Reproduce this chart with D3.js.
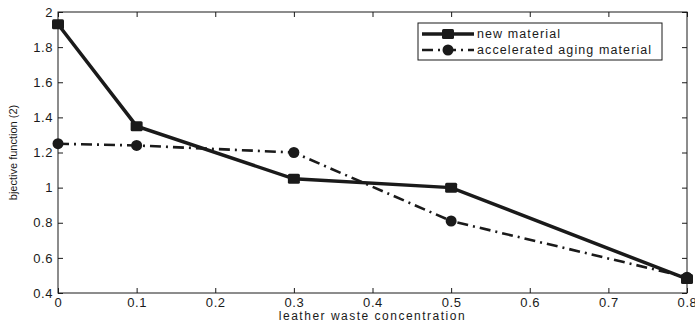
<!DOCTYPE html>
<html>
<head>
<meta charset="utf-8">
<script src="https://cdn.jsdelivr.net/npm/d3@7"></script>
<style>
  body { margin: 0; background: #fff; }
  svg { font-family: "Liberation Sans", Arial, sans-serif; }
</style>
</head>
<body>
<svg id="chart" width="695" height="325"></svg>
<script>
const concentration = [0, 0.1, 0.3, 0.5, 0.8];
const newMaterial = [1.93, 1.35, 1.05, 1.0, 0.48];
const agedMaterial = [1.25, 1.24, 1.2, 0.81, 0.49];
const xTicks = [0, 0.1, 0.2, 0.3, 0.4, 0.5, 0.6, 0.7, 0.8];
const yTicks = [0.4, 0.6, 0.8, 1, 1.2, 1.4, 1.6, 1.8, 2];
const seriesNames = ['new material', 'accelerated aging material'];

const svg = d3.select('#chart');
const plotLeft = 58, plotRight = 687, plotTop = 12, plotBottom = 293;
const ink = '#1a1a1a';

const x = d3.scaleLinear().domain([0, 0.8]).range([plotLeft, plotRight]);
const y = d3.scaleLinear().domain([0.4, 2]).range([plotBottom, plotTop]);

// frame
svg.append('rect')
    .attr('x', plotLeft).attr('y', plotTop)
    .attr('width', plotRight - plotLeft).attr('height', plotBottom - plotTop)
    .attr('fill', 'none').attr('stroke', ink).attr('stroke-width', 1);

// inward ticks on all four sides
const tickLen = 5;
const xAxisB = d3.axisBottom(x).tickValues(xTicks).tickSizeInner(-tickLen).tickSizeOuter(0)
    .tickFormat(d => d3.format('')(d));
const gxB = svg.append('g').attr('transform', `translate(0,${plotBottom})`).call(xAxisB);
const xAxisT = d3.axisTop(x).tickValues(xTicks).tickSizeInner(-tickLen).tickSizeOuter(0).tickFormat('');
const gxT = svg.append('g').attr('transform', `translate(0,${plotTop})`).call(xAxisT);
const yAxisL = d3.axisLeft(y).tickValues(yTicks).tickSizeInner(-tickLen).tickSizeOuter(0)
    .tickFormat(d => d3.format('')(d));
const gyL = svg.append('g').attr('transform', `translate(${plotLeft},0)`).call(yAxisL);
const yAxisR = d3.axisRight(y).tickValues(yTicks).tickSizeInner(-tickLen).tickSizeOuter(0).tickFormat('');
const gyR = svg.append('g').attr('transform', `translate(${plotRight},0)`).call(yAxisR);

[gxB, gxT, gyL, gyR].forEach(g => {
    g.select('.domain').remove();
    g.selectAll('line').attr('stroke', ink);
    g.selectAll('text').attr('fill', ink).attr('font-size', 13).attr('letter-spacing', 0.6);
});
gxB.selectAll('text').attr('y', 5).attr('dy', '0.71em');
gyL.selectAll('text').attr('x', -5);

// axis titles
svg.append('text')
    .attr('x', (plotLeft + plotRight) / 2).attr('y', 320)
    .attr('text-anchor', 'middle').attr('font-size', 12).attr('letter-spacing', 1.5).attr('fill', ink)
    .text('leather waste concentration');
svg.append('text')
    .attr('transform', `translate(17,${(plotTop + plotBottom) / 2}) rotate(-90)`)
    .attr('text-anchor', 'middle').attr('font-size', 11).attr('fill', ink)
    .text('bjective function (2)');

const line = d3.line().x(d => x(d[0])).y(d => y(d[1]));
const newPts = concentration.map((c, i) => [c, newMaterial[i]]);
const agedPts = concentration.map((c, i) => [c, agedMaterial[i]]);

const plot = svg.append('g');
plot.append('path').datum(newPts).attr('d', line)
    .attr('fill', 'none').attr('stroke', ink).attr('stroke-width', 3.5);
plot.append('path').datum(agedPts).attr('d', line)
    .attr('fill', 'none').attr('stroke', ink).attr('stroke-width', 2.6)
    .attr('stroke-dasharray', '11,5,2,5');

plot.selectAll('rect.sq').data(newPts).enter().append('rect')
    .attr('class', 'sq')
    .attr('x', d => x(d[0]) - 6).attr('y', d => y(d[1]) - 5)
    .attr('width', 12).attr('height', 10).attr('rx', 1.5)
    .attr('fill', ink);
plot.selectAll('circle.dot').data(agedPts).enter().append('circle')
    .attr('class', 'dot')
    .attr('cx', d => x(d[0])).attr('cy', d => y(d[1]))
    .attr('r', 5.5).attr('fill', ink);

// legend
const lg = svg.append('g').attr('transform', 'translate(418,23)');
lg.append('rect').attr('width', 244).attr('height', 37)
    .attr('fill', '#fff').attr('stroke', ink).attr('stroke-width', 1);
const rows = [11, 27];
lg.append('line').attr('x1', 4).attr('x2', 56).attr('y1', rows[0]).attr('y2', rows[0])
    .attr('stroke', ink).attr('stroke-width', 3.5);
lg.append('rect').attr('x', 24).attr('y', rows[0] - 5).attr('width', 12).attr('height', 10).attr('rx', 1.5).attr('fill', ink);
lg.append('line').attr('x1', 4).attr('x2', 56).attr('y1', rows[1]).attr('y2', rows[1])
    .attr('stroke', ink).attr('stroke-width', 2.6).attr('stroke-dasharray', '11,5,2,5');
lg.append('circle').attr('cx', 30).attr('cy', rows[1]).attr('r', 5.5).attr('fill', ink);
seriesNames.forEach((name, i) => {
    lg.append('text').attr('x', 59).attr('y', rows[i]).attr('dy', '0.35em')
        .attr('font-size', 12.5).attr('letter-spacing', 1.1).attr('fill', ink).text(name);
});
</script>
</body>
</html>
